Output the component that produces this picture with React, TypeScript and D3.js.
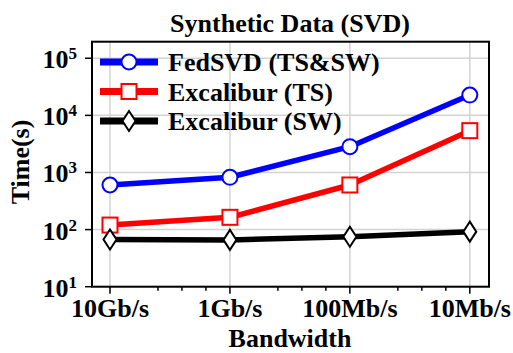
import * as d3 from 'd3';
import React, { useEffect, useRef } from 'react';

const bandwidths = ['10Gb/s', '1Gb/s', '100Mb/s', '10Mb/s'];
const fedSvd = [604, 824, 2830, 22700];
const excaliburTs = [120, 164, 604, 5400];
const excaliburSw = [67, 66, 75, 92];
const yTicks = [1, 2, 3, 4, 5];

interface Series {
	name: string;
	values: number[];
	color: string;
	marker: 'circle' | 'square' | 'diamond';
}

const series: Series[] = [
	{ name: 'FedSVD (TS&SW)', values: fedSvd, color: '#0000ff', marker: 'circle' },
	{ name: 'Excalibur (TS)', values: excaliburTs, color: '#ff0000', marker: 'square' },
	{ name: 'Excalibur (SW)', values: excaliburSw, color: '#000000', marker: 'diamond' },
];

const font = '"Liberation Serif", "Times New Roman", serif';

const drawMarker = (g: d3.Selection<SVGGElement, unknown, null, undefined>, kind: string, x: number, y: number, color: string) => {
	if (kind === 'circle') {
		g.append('circle').attr('cx', x).attr('cy', y).attr('r', 7.5)
			.attr('fill', '#fff').attr('stroke', color).attr('stroke-width', 2);
	} else if (kind === 'square') {
		g.append('rect').attr('x', x - 7.5).attr('y', y - 7.5).attr('width', 15).attr('height', 15)
			.attr('fill', '#fff').attr('stroke', color).attr('stroke-width', 2);
	} else {
		g.append('path').attr('d', `M${x},${y - 10}L${x + 6.5},${y}L${x},${y + 10}L${x - 6.5},${y}Z`)
			.attr('fill', '#fff').attr('stroke', color).attr('stroke-width', 2);
	}
};

export default function App(): React.JSX.Element {
	const ref = useRef<SVGSVGElement | null>(null);

	useEffect(() => {
		if (ref.current === null) return;
		d3.select(ref.current).selectAll('*').remove();

		const width = 513;
		const height = 353;
		const plot = { left: 92, right: 489, top: 41.7, bottom: 286.7 };

		const svg = d3.select(ref.current)
			.attr('width', width)
			.attr('height', height)
			.style('font-family', font)
			.style('font-weight', 'bold');

		const xScale = d3.scaleLinear().domain([-0.15, 3.16]).range([plot.left, plot.right]);
		const yScale = d3.scaleLog().domain([10, Math.pow(10, 5.29)]).range([plot.bottom, plot.top]);

		const grid = svg.append('g').attr('stroke', '#d3d3d3').attr('stroke-width', 1.5);
		bandwidths.forEach((_, i) => {
			grid.append('line').attr('x1', xScale(i)).attr('x2', xScale(i))
				.attr('y1', plot.top).attr('y2', plot.bottom);
		});
		yTicks.forEach((p) => {
			grid.append('line').attr('x1', plot.left).attr('x2', plot.right)
				.attr('y1', yScale(Math.pow(10, p))).attr('y2', yScale(Math.pow(10, p)));
		});

		// x ticks, major + minor
		const ticks = svg.append('g').attr('stroke', '#000').attr('stroke-width', 1.5);
		bandwidths.forEach((label, i) => {
			ticks.append('line').attr('x1', xScale(i)).attr('x2', xScale(i))
				.attr('y1', plot.bottom).attr('y2', plot.bottom + 7);
			if (i < bandwidths.length - 1) {
				[0.4, 0.6, 0.8].forEach((f) => {
					ticks.append('line').attr('x1', xScale(i + f)).attr('x2', xScale(i + f))
						.attr('y1', plot.bottom).attr('y2', plot.bottom + 4);
				});
			}
			svg.append('text').attr('x', xScale(i)).attr('y', 317)
				.attr('text-anchor', 'middle').attr('font-size', 26).text(label);
		});

		yTicks.forEach((p) => {
			const y = yScale(Math.pow(10, p));
			ticks.append('line').attr('x1', plot.left - 7).attr('x2', plot.left)
				.attr('y1', y).attr('y2', y);
			const t = svg.append('text').attr('x', 77).attr('y', y + 10)
				.attr('text-anchor', 'end').attr('font-size', 26);
			t.append('tspan').text('10');
			t.append('tspan').attr('font-size', 17).attr('dy', -9).text(String(p));
		});

		svg.append('rect').attr('x', plot.left).attr('y', plot.top)
			.attr('width', plot.right - plot.left).attr('height', plot.bottom - plot.top)
			.attr('fill', 'none').attr('stroke', '#000').attr('stroke-width', 2);

		const line = d3.line<number>()
			.x((_, i) => xScale(i))
			.y((d) => yScale(d));

		series.forEach((s) => {
			svg.append('path').datum(s.values).attr('d', line)
				.attr('fill', 'none').attr('stroke', s.color).attr('stroke-width', 5.5)
				.attr('stroke-linejoin', 'round');
			const g = svg.append('g');
			s.values.forEach((v, i) => drawMarker(g, s.marker, xScale(i), yScale(v), s.color));
		});

		// legend
		series.forEach((s, i) => {
			const y = 62 + i * 29.5;
			svg.append('line').attr('x1', 100).attr('x2', 158).attr('y1', y).attr('y2', y)
				.attr('stroke', s.color).attr('stroke-width', 7);
			drawMarker(svg.append('g'), s.marker, 129, y, s.color);
			svg.append('text').attr('x', 168).attr('y', y + 9).attr('font-size', 26).text(s.name);
		});

		svg.append('text').attr('x', 290).attr('y', 31.5).attr('text-anchor', 'middle')
			.attr('font-size', 26).text('Synthetic Data (SVD)');
		svg.append('text').attr('x', 290).attr('y', 346.5).attr('text-anchor', 'middle')
			.attr('font-size', 26).text('Bandwidth');
		svg.append('text').attr('transform', `translate(29, 162) rotate(-90)`)
			.attr('text-anchor', 'middle').attr('font-size', 26).text('Time(s)');
	}, []);

	return <svg ref={ref} style={{ position: 'absolute', left: 0, top: 0, background: '#fff' }} />;
}
